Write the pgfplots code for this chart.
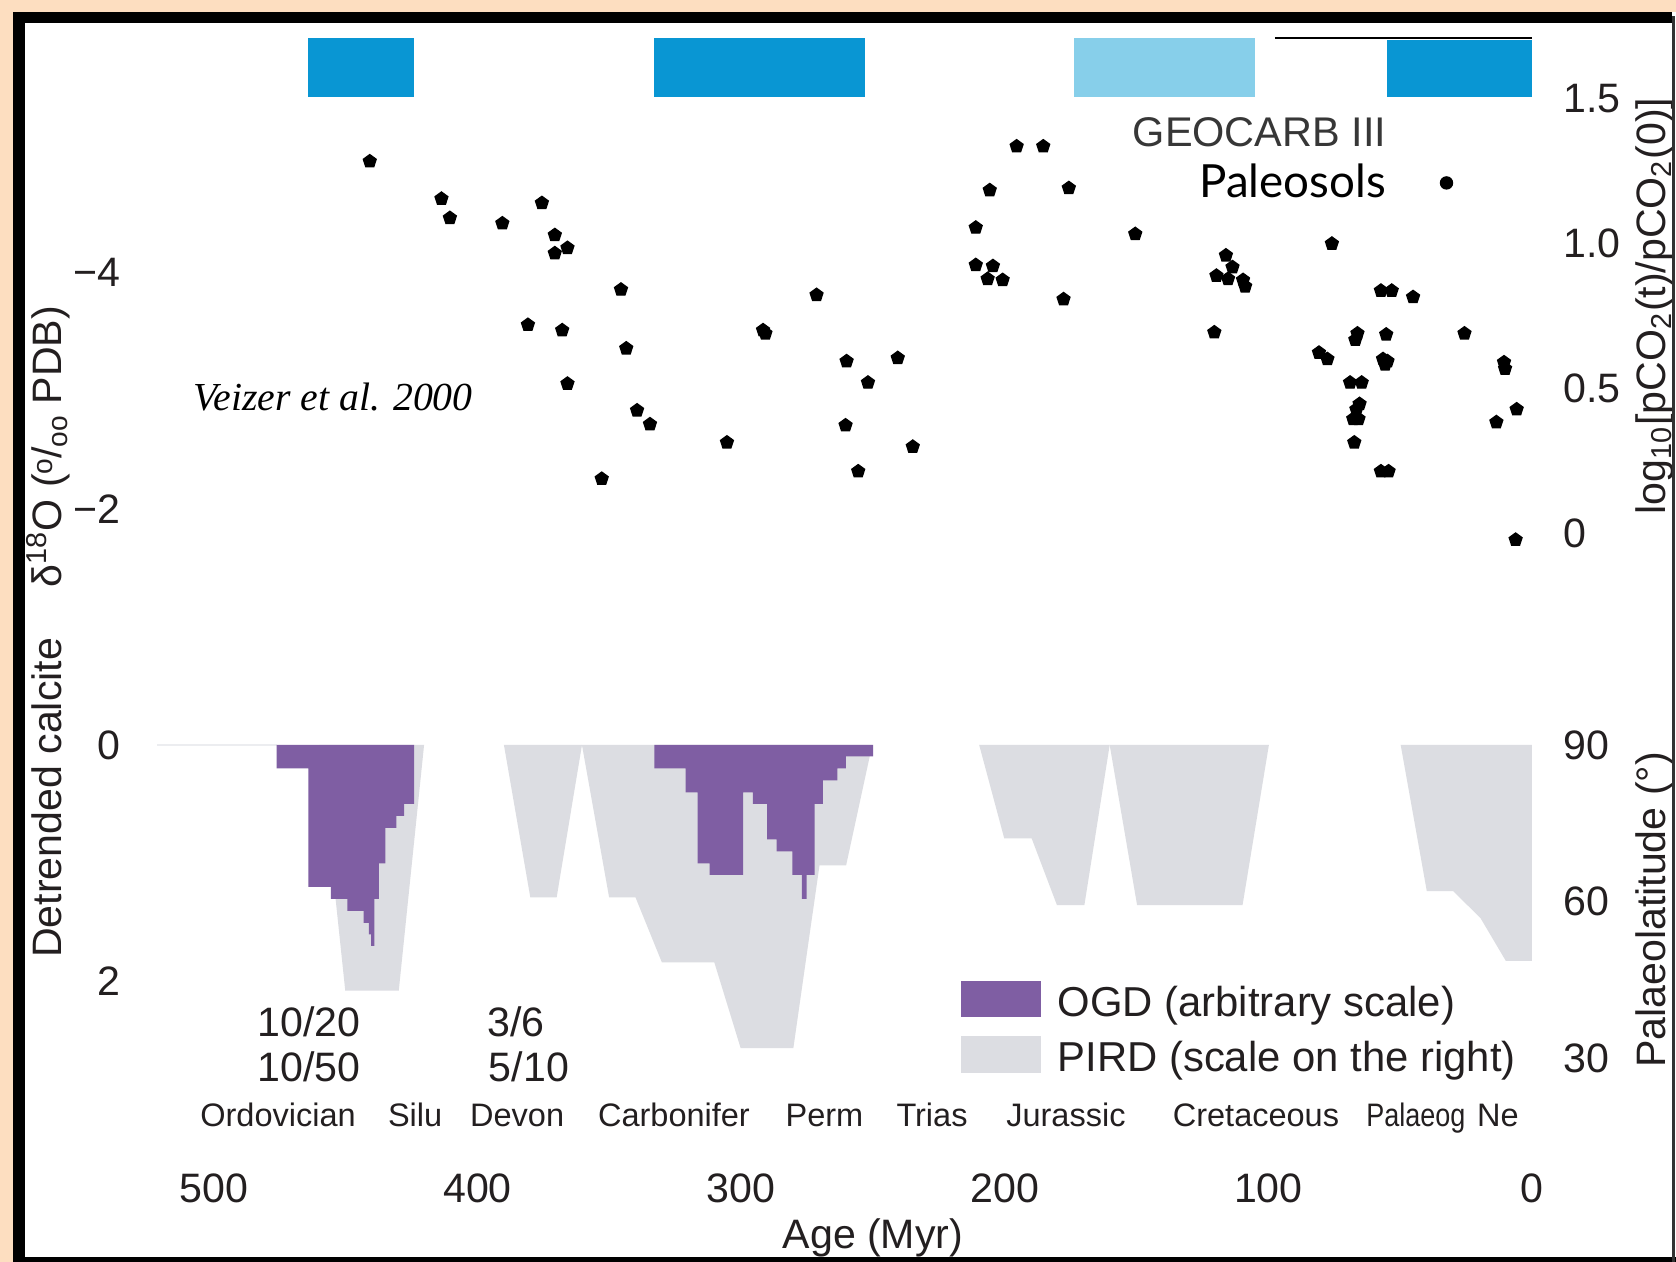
\documentclass[border=0pt]{standalone}
\usepackage{fontspec}
\setmainfont{Liberation Sans}
\newfontfamily\serifit{Liberation Serif}
\newfontfamily\lato{Lato}
\usepackage{pgfplots}
\pgfplotsset{compat=1.18}
\definecolor{peach}{RGB}{253,222,192}
\definecolor{dblue}{RGB}{9,150,211}
\definecolor{lblue}{RGB}{135,207,234}
\definecolor{ogd}{RGB}{127,94,163}
\definecolor{pird}{RGB}{220,221,226}
\definecolor{txt}{RGB}{35,31,32}
\newcommand\fs{\fontsize{11.7}{14}\selectfont}
\newcommand\fst{\fontsize{9.25}{11}\selectfont}
\pgfplotsset{
 common/.style={
   scale only axis, width=13.18cm, height=10.6cm,
   at={(2.14cm,1.72cm)}, anchor=south west,
   xmin=0, xmax=500, x dir=reverse,
   axis line style={draw=none}, major tick length=0pt, tick style={draw=none},
   clip=false, tick label style={font=\fs, text=txt},
 }
}
\begin{document}
\begin{tikzpicture}
\fill[peach] (0,0) rectangle (16.76,12.62);
\fill[white] (0.13,0) rectangle (16.76,12.5);

% ---------- delta18O axis (left) ----------
\begin{axis}[common, ymin=-6.0557, ymax=2.9220, y dir=reverse,
  xtick={0,100,200,300,400,500}, xticklabels={0,100,200,300,400,500},
  x tick label style={anchor=center, yshift=-0.98cm},
  ytick={-4,-2,0,2}, yticklabels={−4,−2,0,2},
  y tick label style={anchor=east, inner sep=0pt, xshift=-0.93cm}]
\addplot[color={rgb,255:red,236;green,237;blue,240}, line width=0.6pt] coordinates {(521.6,0) (476.2,0)};
\node[font=\serifit\itshape\fontsize{11.3}{13}\selectfont, anchor=base west, inner sep=0pt, text=black] at (axis cs:508,-2.837) {Veizer et al. 2000};
\node[font=\fs, text=txt] at (axis description cs:0.5,-0.1396) {Age (Myr)};
\node[font=\fs, text=txt, rotate=90] at (axis description cs:-0.126,0.4321)
  {Detrended calcite\hspace{0.5cm}δ\textsuperscript{18}O (\raisebox{0.4ex}{\footnotesize o}/\raisebox{-0.3ex}{\footnotesize oo} PDB)};
\end{axis}

% ---------- pCO2 axis (upper right) ----------
\begin{axis}[common, ymin=-1.9189, ymax=1.7354, xtick=\empty,
  ytick={0,0.5,1,1.5}, yticklabels={0,0.5,1.0,1.5}, yticklabel pos=right,
  y tick label style={anchor=west, inner sep=0pt, xshift=0.31cm},
  legend plot pos=right, legend cell align=right,
  legend style={draw=none, fill=none, at={(axis description cs:0.9408,0.8557)}, anchor=east,
    inner sep=0pt, nodes={inner sep=0pt}, font=\lato\fontsize{13}{16}\selectfont,
    /tikz/every odd column/.append style={column sep=0.54cm}}]
\addplot[fill=dblue, draw=none, forget plot] coordinates {(464.3,1.504) (424.1,1.504) (424.1,1.706) (464.3,1.706)} -- cycle;
\addplot[fill=dblue, draw=none, forget plot] coordinates {(333.1,1.504) (253.0,1.504) (253.0,1.706) (333.1,1.706)} -- cycle;
\addplot[fill=lblue, draw=none, forget plot] coordinates {(173.7,1.504) (105.1,1.504) (105.1,1.706) (173.7,1.706)} -- cycle;
\addplot[fill=dblue, draw=none, forget plot] coordinates {(55.0,1.504) (0,1.504) (0,1.700) (55.0,1.700)} -- cycle;
\addplot[black, line width=0.8pt, forget plot] coordinates {(97.5,1.708) (0,1.708)};
\addplot[only marks, mark=pentagon*, mark size=1.9pt, black, forget plot] coordinates {
(440.9,1.2825) (413.7,1.1535) (410.5,1.0872) (390.6,1.0687) (375.6,1.1387)
(370.7,1.0282) (370.7,0.9656) (365.9,0.9840) (380.9,0.7187) (367.9,0.7002)
(365.9,0.5160) (345.6,0.8403) (343.6,0.6376) (339.5,0.4239) (334.6,0.3760)
(352.9,0.1880) (305.4,0.3133) (291.7,0.7002) (290.8,0.6892) (271.4,0.8218)
(260.0,0.5934) (251.9,0.5197) (260.4,0.3723) (255.6,0.2138) (240.6,0.6044)
(234.9,0.2986) (211.0,1.0540) (205.7,1.1830) (211.0,0.9250) (204.5,0.9213)
(206.5,0.8771) (200.8,0.8734) (195.5,1.3341) (185.4,1.3341) (175.7,1.1903)
(177.7,0.8071) (150.5,1.0319) (120.5,0.6929) (116.1,0.9582) (119.7,0.8882)
(113.6,0.9176) (115.3,0.8771) (109.6,0.8734) (108.8,0.8513) (75.9,0.9987)
(80.8,0.6228) (77.6,0.6007) (66.2,0.6892) (67.0,0.6671) (69.0,0.5197)
(64.6,0.5197) (65.4,0.4460) (66.6,0.4275) (67.8,0.3944) (65.8,0.3944)
(67.4,0.3133) (57.3,0.8366) (53.2,0.8366) (55.3,0.6855) (56.5,0.6007)
(55.7,0.5823) (54.8,0.5934) (57.3,0.2138) (54.4,0.2138) (45.1,0.8145)
(25.6,0.6892) (10.6,0.5897) (10.2,0.5676) (13.5,0.3833) (5.8,0.4275)
(6.2,-0.0220)};
\addlegendimage{legend image code/.code={\fill[black] (0,0) circle (0.06cm);}}
\addlegendentry{Paleosols}
\node[font=\fontsize{11.8}{14}\selectfont, text={rgb,255:red,55;green,55;blue,55}, anchor=east, inner sep=0pt] at (axis description cs:0.8900,0.9033) {GEOCARB III};
\node[font=\fs, text=txt, rotate=90] at (axis description cs:1.0933,0.7396)
  {log\textsubscript{10}[pCO\textsubscript{2}(t)/pCO\textsubscript{2}(0)]};
\end{axis}

% ---------- palaeolatitude axis (lower right) ----------
\begin{axis}[common, ymin=23.87, ymax=227.05, xtick=\empty,
  ytick={30,60,90}, yticklabels={30,60,90}, yticklabel pos=right,
  y tick label style={anchor=west, inner sep=0pt, xshift=0.31cm},
  legend cell align=left,
  legend style={draw=none, fill=none, at={(axis description cs:0.5665,0.1038)}, anchor=north west,
    inner sep=0pt, nodes={inner sep=0pt}, row sep=0.15cm, font=\fontsize{11.9}{14}\selectfont\color{txt},
    /tikz/every odd column/.append style={column sep=0.17cm}}]
% PIRD
\addplot[fill=pird, draw=none, forget plot] coordinates {(460,90) (450.2,42.9) (429.9,42.9) (420.3,90)} -- cycle;
\addplot[fill=pird, draw=none, forget plot] coordinates {(390,90) (380,60.8) (370,60.8) (360.4,90)} -- cycle;
\addplot[fill=pird, draw=none, forget plot] coordinates {(360.4,90) (350.1,60.8) (340.1,60.8) (330.1,48.35) (310.2,48.35) (300.2,31.9) (280.2,31.9) (270.3,66.9) (260.2,66.9) (250.3,90)} -- cycle;
\addplot[fill=pird, draw=none, forget plot] coordinates {(209.7,90) (200.2,72.1) (189.8,72.1) (180.2,59.3) (169.8,59.3) (160.2,90)} -- cycle;
\addplot[fill=pird, draw=none, forget plot] coordinates {(160.2,90) (149.8,59.3) (109.8,59.3) (99.8,90)} -- cycle;
\addplot[fill=pird, draw=none, forget plot] coordinates {(49.8,90) (39.9,62.0) (29.9,62.0) (19.5,56.8) (9.9,48.6) (0,48.6) (0,90)} -- cycle;
% OGD
\addplot[fill=ogd, draw=none, forget plot] coordinates {
(476.2,90) (476.2,85.5) (464.2,85.5) (464.2,62.8) (455.7,62.8) (455.7,60.5)
(449.4,60.5) (449.4,58.2) (443.2,58.2) (443.2,55.9) (441.2,55.9) (441.2,53.7)
(440.4,53.7) (440.4,51.5) (439.2,51.5) (439.2,60.5) (437.4,60.5) (437.4,67.3)
(435.0,67.3) (435.0,74.1) (430.8,74.1) (430.8,76.4) (427.9,76.4) (427.9,78.7)
(424.1,78.7) (424.1,90)} -- cycle;
\addplot[fill=ogd, draw=none, forget plot] coordinates {
(332.9,90) (332.9,85.5) (321.1,85.5) (321.1,80.9) (316.5,80.9) (316.5,67.3)
(312.0,67.3) (312.0,65.1) (299.3,65.1) (299.3,80.9) (295.6,80.9) (295.6,78.7)
(290.2,78.7) (290.2,71.9) (286.6,71.9) (286.6,69.6) (280.6,69.6) (280.6,65.1)
(277.0,65.1) (277.0,60.5) (275.2,60.5) (275.2,65.1) (272.1,65.1) (272.1,78.7)
(269.0,78.7) (269.0,83.2) (263.5,83.2) (263.5,85.5) (260.3,85.5) (260.3,87.8)
(249.9,87.8) (249.9,90)} -- cycle;
\addlegendimage{legend image code/.code={\fill[ogd] (0cm,-0.127cm) rectangle (0.78cm,0.223cm);}}
\addlegendentry{OGD (arbitrary scale)}
\addlegendimage{legend image code/.code={\fill[pird] (0cm,-0.127cm) rectangle (0.78cm,0.223cm);}}
\addlegendentry{PIRD (scale on the right)}
% counts
\node[font=\fs, text=txt] at (axis cs:464.0,36.9) {10/20};
\node[font=\fs, text=txt] at (axis cs:464.0,28.3) {10/50};
\node[font=\fs, text=txt] at (axis cs:385.4,36.9) {3/6};
\node[font=\fs, text=txt] at (axis cs:380.5,28.3) {5/10};
% periods
\node[font=\fst, text=txt, anchor=base] at (axis cs:475.7,16.84) {Ordovician};
\node[font=\fst, text=txt, anchor=base] at (axis cs:423.7,16.84) {Silu};
\node[font=\fst, text=txt, anchor=base] at (axis cs:385.0,16.84) {Devon};
\node[font=\fst, text=txt, anchor=base] at (axis cs:325.5,16.84) {Carbonifer};
\node[font=\fst, text=txt, anchor=base] at (axis cs:268.4,16.84) {Perm};
\node[font=\fst, text=txt, anchor=base] at (axis cs:227.6,16.84) {Trias};
\node[font=\fst, text=txt, anchor=base] at (axis cs:176.8,16.84) {Jurassic};
\node[font=\fst, text=txt, anchor=base] at (axis cs:104.7,16.84) {Cretaceous};
\node[font=\fst, text=txt, anchor=base] at (axis cs:44.0,16.84) {\scalebox{0.83}[1]{Palaeog}};
\node[font=\fst, text=txt, anchor=base] at (axis cs:12.9,16.84) {Ne};
\node[font=\fs, text=txt, rotate=90] at (axis description cs:1.0933,0.1698) {Palaeolatitude (°)};
\end{axis}

% frame
\draw[black, line width=0.11cm] (0.13,12.445) -- (16.72,12.445);
\draw[black, line width=0.12cm] (0.19,0) -- (0.19,12.50);
\draw[black, line width=0.05cm] (0.13,0.025) -- (16.76,0.025);
\draw[black!80, line width=0.03cm] (16.73,0) -- (16.73,12.46);
\pgfresetboundingbox
\useasboundingbox (0,0) rectangle (16.76,12.62);
\end{tikzpicture}
\end{document}
